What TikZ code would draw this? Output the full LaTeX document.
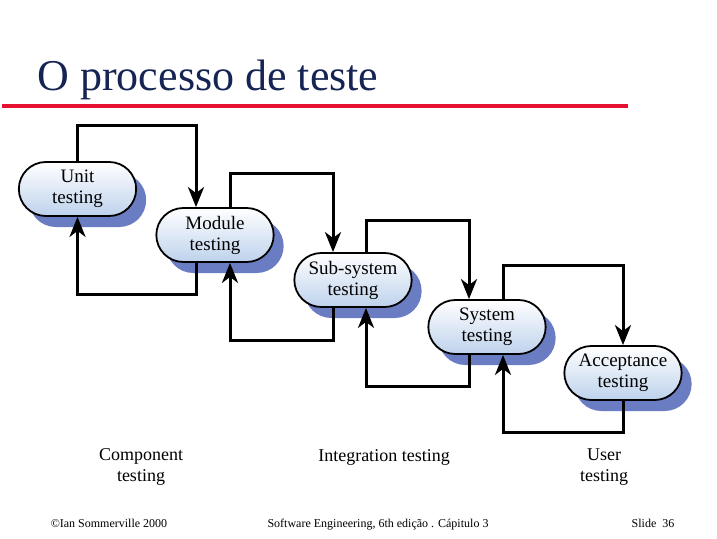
\documentclass[tikz,border=0pt]{standalone}
\usepackage{fontspec}
\setmainfont{Liberation Serif}
\usepackage{tikz}
\usetikzlibrary{arrows.meta}
\usetikzlibrary{shapes.misc}
\usetikzlibrary{shadows}

\definecolor{titleblue}{RGB}{22,36,84}
\definecolor{rulered}{RGB}{230,16,48}
\definecolor{shadowblue}{RGB}{106,124,194}
\definecolor{pillblue}{RGB}{190,210,236}

\begin{document}
\begin{tikzpicture}[x=1pt, y=-1pt,
    pill/.style={shape=rounded rectangle, draw=black, line width=1.8pt,
      minimum width=124pt, minimum height=54pt, align=center, font=\fontsize{19}{21}\selectfont,
      top color=white, bottom color=pillblue,
      drop shadow={fill=shadowblue, opacity=1, shadow xshift=10pt, shadow yshift=-11pt}},
    flow/.style={line width=3pt, -{Stealth[length=20pt, width=16pt, inset=6pt]}},
    phase/.style={align=center, font=\fontsize{18}{21}\selectfont},
    foot/.style={anchor=base, font=\fontsize{12}{14}\selectfont}]
      \useasboundingbox (0,0) rectangle (717,538);
      \node (title) at (34,80) [anchor=west, text=titleblue, font=\fontsize{44}{48}\selectfont] {O processo de teste};
      \draw [rulered, line width=4pt] (2,105.5) -- (628,105.5);

      \node (unit) [pill] at (77.5,189) {Unit\\testing};
      \node (module) [pill] at (215,235) {Module\\testing};
      \node (subsys) [pill] at (353,280) {Sub-system\\testing};
      \node (system) [pill] at (487,327) {System\\testing};
      \node (accept) [pill] at (623,373) {Acceptance\\testing};

      % forward links (over the top)
      \draw [flow] (unit.north) -- ++(0,-36) -| ([xshift=-19pt]module.north);
      \draw [flow] ([xshift=15pt]module.north) -- ++(0,-34) -| ([xshift=-20pt]subsys.north);
      \draw [flow] ([xshift=13pt]subsys.north) -- ++(0,-32) -| ([xshift=-18pt]system.north);
      \draw [flow] ([xshift=16pt]system.north) -- ++(0,-34) -| (accept.north);
      % back links (underneath)
      \draw [flow] ([xshift=-19pt]module.south) -- ++(0,32) -| (unit.south);
      \draw [flow] ([xshift=-20pt]subsys.south) -- ++(0,33) -| ([xshift=15pt]module.south);
      \draw [flow] ([xshift=-18pt]system.south) -- ++(0,32) -| ([xshift=13pt]subsys.south);
      \draw [flow] (accept.south) -- ++(0,32) -| ([xshift=16pt]system.south);

      \node (comp) [phase] at (141,467) {Component\\testing};
      \node (integ) [phase] at (384,457) {Integration testing};
      \node (user) [phase] at (604,467) {User\\testing};

      \node (copy) [foot] at (109,527) {\textcopyright Ian Sommerville 2000};
      \node (book) [foot] at (378,527) {Software Engineering, 6th edição . Cápitulo 3};
      \node (slide) [foot] at (653,527) {Slide~~36};
\end{tikzpicture}
\end{document}
